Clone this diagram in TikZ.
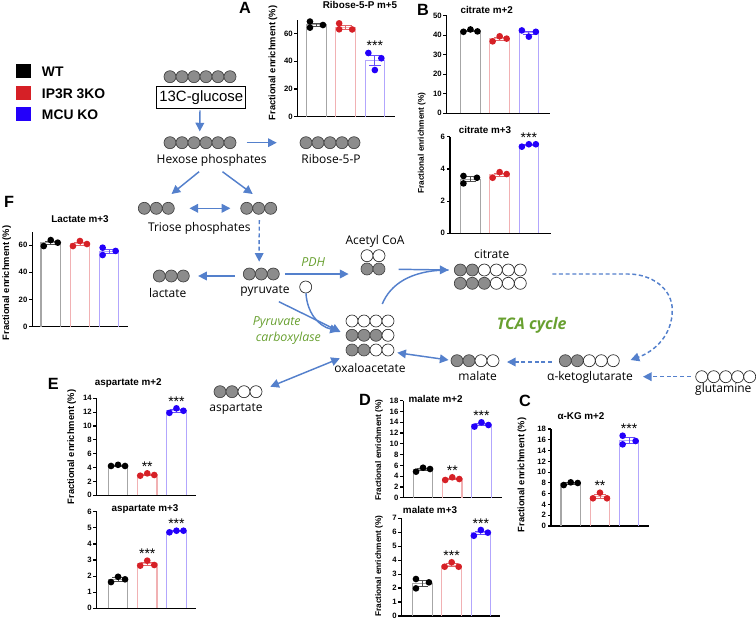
\documentclass[tikz,border=0pt]{standalone}
\usepackage{fontspec}
\setmainfont{Liberation Sans}
\newfontfamily\pathfont{Open Sans}
\usetikzlibrary{arrows.meta,calc}

\definecolor{kocol}{RGB}{214,32,38}
\definecolor{mcucol}{RGB}{35,0,250}
\definecolor{flowblue}{RGB}{84,128,204}
\definecolor{pathgreen}{RGB}{104,160,48}
\definecolor{cgray}{RGB}{140,140,140}

\tikzset{
  axisline/.style={line width=0.9pt, black},
  ticklab/.style={anchor=east, inner sep=0.8pt, font=\bfseries\fontsize{5.8}{6}\selectfont},
  charttitle/.style={anchor=base, yshift=-2.8pt, inner sep=0pt, font=\bfseries\fontsize{7.4}{8}\selectfont},
  ylab/.style={rotate=90, inner sep=0pt, font=\bfseries\fontsize{7}{8}\selectfont},
  ylabsmall/.style={ylab, font=\bfseries\fontsize{6.2}{7}\selectfont},
  panel/.style={anchor=base, yshift=-4.4pt, inner sep=0pt, font=\bfseries\fontsize{12.2}{13}\selectfont},
  stars/.style={anchor=base, inner sep=0pt, font=\fontsize{10.5}{10}\selectfont},
  legendlab/.style={anchor=base west, yshift=-3.75pt, inner sep=0pt, font=\bfseries\fontsize{10.4}{11}\selectfont},
  lab/.style={anchor=base, yshift=-2.6pt, inner sep=0pt, font=\pathfont\fontsize{9}{10}\selectfont},
  enz/.style={lab, text=pathgreen, font=\pathfont\itshape\fontsize{9.3}{10}\selectfont},
  c1/.style={fill=cgray, draw=black!75, line width=0.5pt},
  c0/.style={fill=white, draw=black!85, line width=0.5pt},
  mol/.style={inner sep=0pt, minimum height=9pt},
  flow/.style={draw=flowblue, line width=1.1pt, -{Triangle[length=6.5pt,width=6.5pt]}},
  flow2/.style={flow, {Triangle[length=6.5pt,width=6.5pt]}-{Triangle[length=6.5pt,width=6.5pt]}},
  flowd/.style={flow, dash pattern=on 3pt off 2pt},
}

% axes of one chart: axis x, base y, px per unit, ymax, ticks, right end, first bar
\newcommand{\chartaxes}[7]{%
  \xdef\cax{#1}\xdef\cby{#2}\xdef\cpu{#3}\xdef\cbl{#7}%
  \draw[axisline] (#1,#2) -- (#6,#2);
  \draw[axisline] (#1,#2) -- (#1,#2-#4*#3);
  \foreach \t in {#5} \draw[axisline] (#1,#2-\t*#3) -- ++(-3.3,0) node[ticklab] {\t};
}
% one bar: slot, colour, mean, sem, points dx/value, stars
\newcommand{\chartbar}[6]{%
  \pgfmathsetmacro\bl{\cbl+#1*29.2}%
  \pgfmathsetmacro\bc{\bl+9.75}%
  \pgfmathsetmacro\bt{\cby-#3*\cpu}%
  \pgfmathsetmacro\eh{\cby-(#3+#4)*\cpu}%
  \pgfmathsetmacro\el{\cby-(#3-#4)*\cpu}%
  \draw[#2!35, line width=0.8pt] (\bl,\cby) -- (\bl,\bt) -- ({\bl+19.5},\bt) -- ({\bl+19.5},\cby);
  \draw[#2!70, line width=0.6pt] (\bc,\el) -- (\bc,\eh) ({\bc-6},\el) -- ({\bc+6},\el) ({\bc-6},\eh) -- ({\bc+6},\eh);
  \xdef\hi{#3}%
  \foreach \dx/\v in {#5} {\fill[#2] ({\bc+\dx},{\cby-\v*\cpu}) circle (2.5pt);
    \pgfmathsetmacro\tmp{max(\hi,\v)}\xdef\hi{\tmp}}%
  \pgfmathsetmacro\st{\cby-\hi*\cpu-2}%
  \node[stars] at (\bc,\st) {#6};
}
% row of carbons: name, left x, y, pattern
\newcommand{\carbons}[4]{%
  \foreach \c [count=\i] in {#4} {\filldraw[c\c] (#2+\i*12-6,#3) circle (4.5pt); \xdef\nc{\i}}%
  \node[mol, minimum width=\nc*9pt, anchor=west] (#1) at (#2,#3) {};
}

\begin{document}
\begin{tikzpicture}[x=0.75pt,y=-0.75pt]
\useasboundingbox (0,0) rectangle (756,621);

% legend
\fill[black] (15.7,64) rectangle (31,78.3);
\fill[kocol] (15.7,85.7) rectangle (31,100);
\fill[mcucol] (15.7,106.7) rectangle (31,121);
\node[legendlab] (lwt) at (41.7,71.7) {WT};
\node[legendlab] (lko) at (41.7,93.3) {IP3R 3KO};
\node[legendlab] (lmcu) at (41.7,114) {MCU KO};

% ---------------- pathway ----------------
\carbons{glc}{164}{76.7}{1,1,1,1,1,1}
\node[draw, line width=0.6pt, minimum width=66.8pt, minimum height=16.2pt, inner sep=1pt,
  font=\fontsize{11.2}{12}\selectfont] (glcbox) at (201.3,97.5) {13C-glucose};
\carbons{hex}{164}{142.7}{1,1,1,1,1,1}
\node[lab] (hexl) at (211.7,160) {Hexose phosphates};
\carbons{rib}{300}{142.7}{1,1,1,1,1}
\node[lab] (ribl) at (331,160) {Ribose-5-P};
\carbons{tri1}{138.3}{208.3}{1,1,1}
\carbons{tri2}{240.7}{208.3}{1,1,1}
\node[lab] (tril) at (199.3,227.7) {Triose phosphates};
\carbons{pyr}{243.3}{274}{1,1,1}
\node[lab] (pyrl) at (265,290) {pyruvate};
\carbons{lac}{153.3}{276}{1,1,1}
\node[lab] (lacl) at (167.7,294.3) {lactate};
\carbons{acoa1}{361}{255.7}{0,0}
\carbons{acoa2}{361}{269}{1,1}
\node[lab] (acoal) at (375,241) {Acetyl CoA};
\carbons{co2}{299.7}{287}{0}
\carbons{oaa1}{346}{321}{0,0,0,0}
\carbons{oaa2}{346}{335.3}{1,1,1,0}
\carbons{oaa3}{346}{350}{1,1,0,0}
\node[lab] (oaal) at (370,369.3) {oxaloacetate};
\carbons{cit1}{454.3}{270}{1,1,0,0,0,0}
\carbons{cit2}{454.3}{283.3}{1,1,1,0,0,0}
\node[lab] (citl) at (491.7,255) {citrate};
\carbons{akg}{559.3}{360.7}{1,1,0,0,0}
\node[lab] (akgl) at (590,377.3) {α-ketoglutarate};
\carbons{mal}{451}{360.7}{1,1,0,0}
\node[lab] (mall) at (477.7,376.7) {malate};
\carbons{glu}{695.7}{376.7}{0,0,0,0,0}
\node[lab] (glul) at (723.3,389.3) {glutamine};
\carbons{asp}{214}{391.7}{1,1,0,0}
\node[lab] (aspl) at (236,408.3) {aspartate};

\node[enz] (pdh) at (313.3,262.7) {PDH};
\node[enz] (pc1) at (276.7,321.7) {Pyruvate};
\node[enz] (pc2) at (288.3,338.3) {carboxylase};
\node[lab, text=pathgreen, yshift=-1.6pt, font=\pathfont\bfseries\itshape\fontsize{12}{13}\selectfont] (tca) at (531.7,324.3) {TCA cycle};

\draw[flow] ($(glcbox.south)+(-1.3,1.7)$) -- ($(hex.north)+(-0.5,-5)$);
\draw[flow] ($(hex.east)+(10,0)$) -- ($(rib.west)+(-23.3,0)$);
\draw[flow] ($(hex)+(-1.2,29)$) -- ($(tri1)+(15,-14.3)$);
\draw[flow] ($(hex)+(22.2,29)$) -- ($(tri2)+(-6.3,-14.3)$);
\draw[flow2] ($(tri1.east)+(14.6,0)$) -- ($(tri2.west)+(-10.3,0)$);
\draw[flowd] ($(tri2)+(0.3,11.7)$) -- ($(pyr)+(-2.4,-12.3)$);
\draw[flow] ($(pyr)+(-26.7,2)$) -- ($(lac)+(26.6,0)$);
\draw[flow] ($(pyr)+(23.3,0)$) -- ($(acoa2)+(-24.7,5)$);
\draw[flow] (co2.south) .. controls (307,312) and (318,326) .. ($(oaa2)+(-31.4,-4.3)$);
\draw[flow] ($(pyr)+(17.3,27.7)$) -- ($(oaa2)+(-29.7,-3.3)$);
\draw[flowblue, line width=1.1pt] ($(oaa1)+(12,-17)$) .. controls (390,285) and (410,270) .. ($(cit1)+(-42,0)$);
\draw[flow] ($(acoa2)+(25.3,0.3)$) -- ($(cit1)+(-42,0)$);
\draw[flowd] ($(cit1)+(61.7,4)$) -- ++(76,0) to[out=0,in=90] ++(44,36) to[out=-90,in=20] ($(akg)+(41,-0.7)$);
\draw[flowd] ($(akg)+(-37.6,1.3)$) -- ($(mal)+(31.7,1.3)$);
\draw[flow2] ($(oaa3)+(27,2.7)$) -- ($(mal)+(-26.7,-0.7)$);
\draw[flowd] ($(glu)+(-35.2,0)$) -- ($(akg)+(53.4,16)$);
\draw[flow2] ($(oaa3)+(-30.4,8.3)$) -- ($(asp)+(32,-5)$);

% ---------------- charts ----------------
% A
\node[panel] (pa) at (245,8) {A};
\node[charttitle] (ta) at (360,5) {Ribose-5-P m+5};
\node[ylab] (ya) at (273,63) {Fractional enrichment (\%)};
\chartaxes{297.7}{116.7}{1.385}{70}{0,20,40,60}{395}{306.7}
\chartbar{0}{black}{66.4}{1.3}{-6.5/68.7,-6.5/64.3,6.5/66.2}{}
\chartbar{1}{kocol}{64.5}{1.4}{-6.5/67.4,-6.5/63.1,6.5/63}{}
\chartbar{2}{mcucol}{40.6}{3.6}{-6.5/46,6.5/42.2,0/33.7}{***}

% B
\node[panel] (pb) at (423,10) {B};
\node[charttitle] (tb1) at (486.7,10) {citrate m+2};
\node[ylabsmall] (yb) at (421.7,143) {Fractional enrichment (\%)};
\chartaxes{446.7}{113.3}{1.95}{50}{0,10,...,50}{550}{460.7}
\chartbar{0}{black}{42.2}{0.4}{-7/41.8,0/43,7/42}{}
\chartbar{1}{kocol}{38.2}{0.8}{-7/36.9,0/39.5,7/38.3}{}
\chartbar{2}{mcucol}{41.2}{0.9}{-7/42.5,0/39.3,7/41.8}{}
\node[charttitle] (tb2) at (485,129.3) {citrate m+3};
\chartaxes{450}{233.3}{16.1}{6}{0,2,4,6}{551}{460.7}
\chartbar{0}{black}{3.37}{0.14}{-7/3.56,-7/3.1,6.5/3.45}{}
\chartbar{1}{kocol}{3.65}{0.1}{-7/3.45,0/3.8,7/3.68}{}
\chartbar{2}{mcucol}{5.48}{0.05}{-7/5.38,0/5.53,7/5.53}{***}

% F
\node[panel] (pf) at (9,201.7) {F};
\node[charttitle] (tf) at (80,218.3) {Lactate m+3};
\node[ylab] (yf) at (6.7,283) {Fractional enrichment (\%)};
\chartaxes{32.3}{326.7}{1.36}{70}{0,20,40,60}{128}{41}
\chartbar{0}{black}{61.6}{1.3}{-7/59.3,0/63.7,7/61.8}{}
\chartbar{1}{kocol}{61}{1}{-7/59.3,0/63,7/60.8}{}
\chartbar{2}{mcucol}{55.5}{1.6}{-6.5/58.1,-6.5/52.7,6.5/55.7}{}

% E
\node[panel] (pe) at (53.3,383.3) {E};
\node[charttitle] (te1) at (128.3,381.7) {aspartate m+2};
\node[ylab] (ye) at (71.7,447) {Fractional enrichment (\%)};
\chartaxes{96.7}{495.3}{6.93}{14}{0,2,...,14}{196}{108.3}
\chartbar{0}{black}{4.28}{0.05}{-7/4.23,0/4.4,7/4.23}{}
\chartbar{1}{kocol}{2.98}{0.1}{-7/2.83,0/3.17,7/2.93}{**}
\chartbar{2}{mcucol}{12.2}{0.2}{-7/11.9,0/12.55,7/12.2}{***}
\node[charttitle] (te2) at (145,507.3) {aspartate m+3};
\chartaxes{96.7}{608.3}{16.1}{6}{0,...,6}{196}{108.3}
\chartbar{0}{black}{1.8}{0.1}{-7/1.63,0/1.96,7/1.8}{}
\chartbar{1}{kocol}{2.77}{0.1}{-7/2.65,0/2.96,7/2.69}{***}
\chartbar{2}{mcucol}{4.79}{0.03}{-7/4.72,0/4.82,7/4.82}{***}

% D
\node[panel] (pd) at (365,400) {D};
\node[charttitle] (td1) at (435.7,398.3) {malate m+2};
\node[ylabsmall] (yd1) at (379,450) {Fractional enrichment (\%)};
\chartaxes{403.3}{497.7}{5.385}{18}{0,2,...,18}{501.7}{413.3}
\chartbar{0}{black}{5.24}{0.2}{-7/4.83,0/5.57,7/5.33}{}
\chartbar{1}{kocol}{3.5}{0.15}{-7/3.29,0/3.79,7/3.47}{**}
\chartbar{2}{mcucol}{13.57}{0.2}{-7/13.2,0/14.0,7/13.5}{***}
\node[charttitle] (td2) at (430,510) {malate m+3};
\node[ylabsmall] (yd2) at (379,566) {Fractional enrichment (\%)};
\chartaxes{401.7}{616}{13.96}{7}{0,...,7}{500}{412.7}
\chartbar{0}{black}{2.35}{0.2}{-6.5/1.98,-6.5/2.65,6.5/2.41}{}
\chartbar{1}{kocol}{3.64}{0.1}{-7/3.53,0/3.85,7/3.53}{***}
\chartbar{2}{mcucol}{5.96}{0.1}{-7/5.75,0/6.16,7/5.97}{***}

% C
\node[panel] (pcc) at (525,400.7) {C};
\node[charttitle] (tc) at (581,415.7) {α-KG m+2};
\node[ylab] (yc) at (522,475) {Fractional enrichment (\%)};
\chartaxes{551}{526}{5.39}{18}{0,2,...,18}{649.3}{561}
\chartbar{0}{black}{7.9}{0.15}{-7/7.6,0/8.1,7/7.98}{}
\chartbar{1}{kocol}{5.5}{0.35}{-7/5.14,0/6.18,7/5.14}{**}
\chartbar{2}{mcucol}{15.9}{0.5}{-6.5/16.75,-6.5/15.15,6.5/15.77}{***}

\end{tikzpicture}
\end{document}
